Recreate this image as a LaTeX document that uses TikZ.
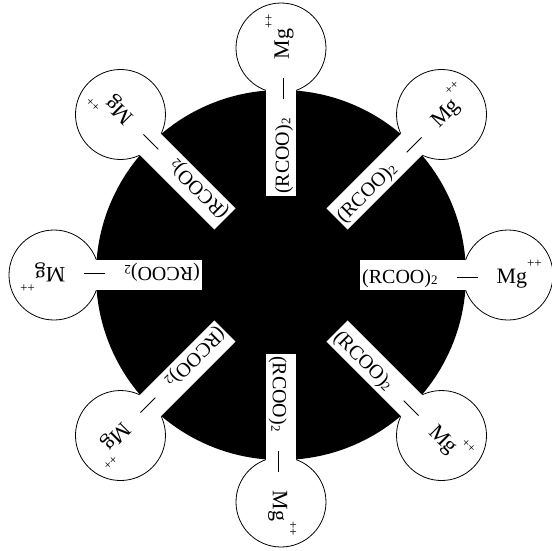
\documentclass[tikz,border=0pt]{standalone}
\usepackage{fontspec}
\setmainfont{Liberation Serif}
\begin{document}
\begin{tikzpicture}[x=1pt,y=1pt,
  core/.style={circle,fill=black,minimum size=370pt,inner sep=0pt},
  ion/.style={circle,draw=black,line width=0.8pt,fill=white,minimum size=90pt,inner sep=0pt},
  chain/.style={fill=white,inner xsep=2pt,inner ysep=0pt,text height=23pt,text depth=7pt,
    font=\fontsize{20}{20}\selectfont,anchor=west}]
\fill[white] (-281,-275) rectangle (271,275);
\useasboundingbox (-281,-275) rectangle (271,275);
\node[core] (core) at (0,0) {};
\foreach \i/\a in {1/0,2/45,3/90,4/135,5/180,6/225,7/270,8/315}{
  \node[ion] (ion\i) at (\a:227) {};
}
\foreach \i/\a in {1/0,2/45,3/90,4/135,5/180,6/225,7/270,8/315}{
  \node[chain,rotate=\a] (lab\i) at (\a:79)
   {(RCOO)\lower1.5pt\hbox{\fontsize{13}{13}\selectfont 2}\hspace{19pt}\rule[5.5pt]{21pt}{0.9pt}\hspace{19pt}{\fontsize{22}{22}\selectfont Mg}\raisebox{16pt}{\fontsize{13}{13}\selectfont ++}};
}
\end{tikzpicture}
\end{document}
